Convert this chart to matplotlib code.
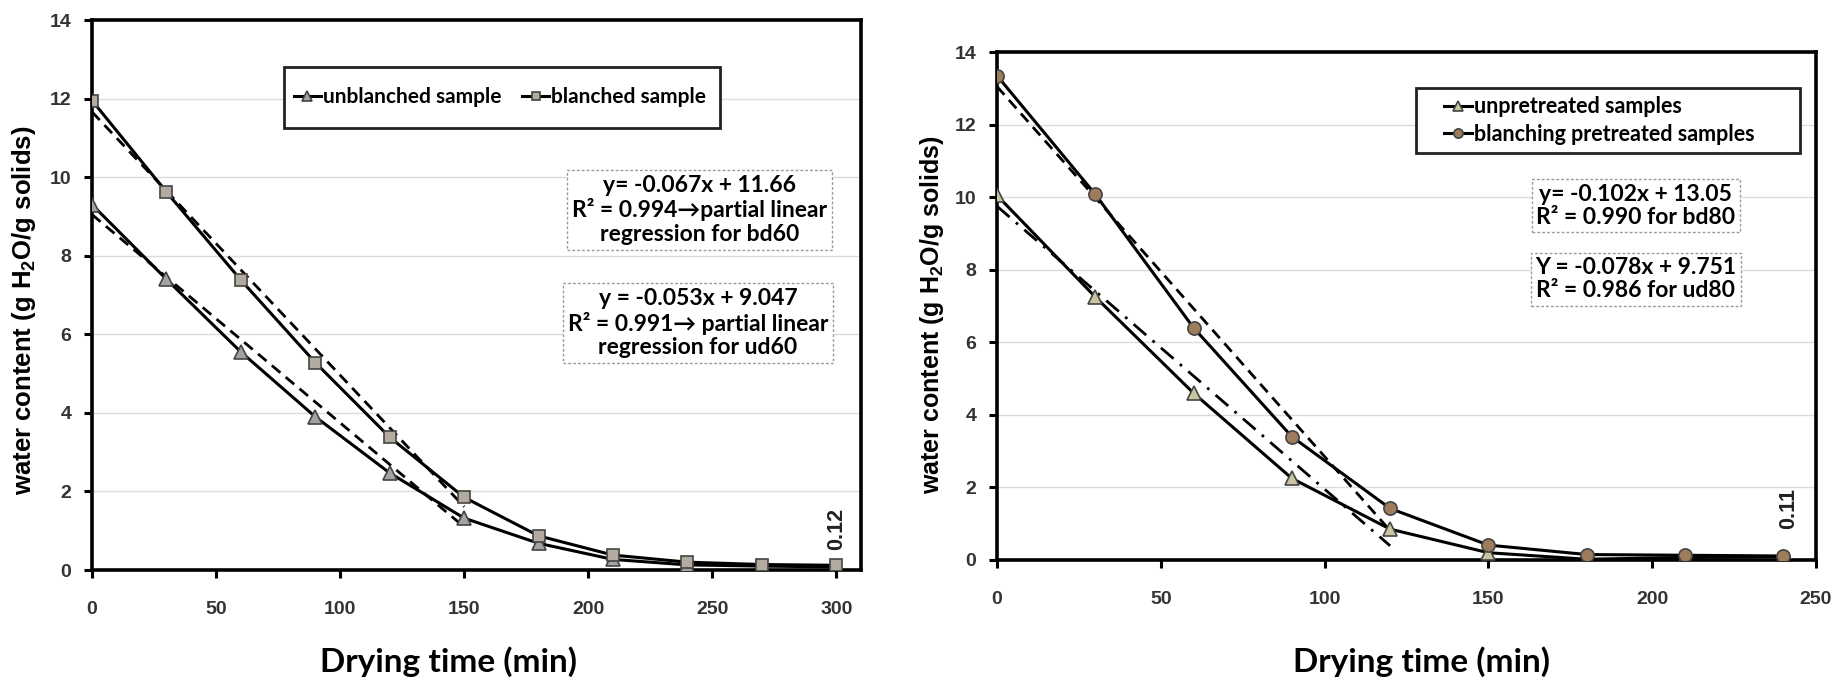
import matplotlib
matplotlib.use('Agg')
import matplotlib.pyplot as plt
from matplotlib.patches import Rectangle
import numpy as np

plt.rcParams['mathtext.fontset'] = 'custom'
plt.rcParams['mathtext.bf'] = 'Liberation Sans:bold'
plt.rcParams['mathtext.rm'] = 'Liberation Sans:bold'

# --- Data: left panel (60 C) ---
time_60 = [0, 30, 60, 90, 120, 150, 180, 210, 240, 270, 300]
unblanched_60 = [9.30, 7.40, 5.55, 3.90, 2.47, 1.32, 0.68, 0.27, 0.13, 0.10, 0.08]
blanched_60 = [11.95, 9.62, 7.38, 5.28, 3.38, 1.85, 0.87, 0.38, 0.20, 0.14, 0.12]
fit_range_60 = [0, 150]
fit_bd60 = (-0.067, 11.66)
fit_ud60 = (-0.053, 9.047)

# --- Data: right panel (80 C) ---
time_80 = [0, 30, 60, 90, 120, 150, 180, 210, 240]
unpretreated_80 = [10.05, 7.25, 4.60, 2.25, 0.85, 0.20, 0.02, 0.07, 0.09]
blanching_80 = [13.35, 10.08, 6.40, 3.40, 1.42, 0.41, 0.15, 0.13, 0.11]
fit_range_80 = [0, 120]
fit_bd80 = (-0.102, 13.05)
fit_ud80 = (-0.078, 9.751)

TICK_FONT = 'Liberation Sans'
BOX_FONT = ['Lato', 'DejaVu Sans']
YLABEL = r'water content (g H$_{\mathbf{2}}$O/g solids)'

fig = plt.figure(figsize=(18.34, 6.79), dpi=100)
ax1 = fig.add_axes([0.0502, 0.1605, 0.4193, 0.8100])
ax2 = fig.add_axes([0.5436, 0.1753, 0.4466, 0.7481])


def style_axes(ax, xmax, xticks):
    ax.set_xlim(0, xmax)
    ax.set_ylim(0, 14)
    ax.set_xticks(xticks)
    ax.set_yticks(range(0, 15, 2))
    ax.grid(axis='y', color='#dcdcdc', linewidth=1.0)
    ax.set_axisbelow(True)
    for sp in ax.spines.values():
        sp.set_linewidth(2.6)
        sp.set_color('black')
    ax.tick_params(direction='out', length=6, width=2.2)
    ax.tick_params(axis='x', pad=16)
    ax.tick_params(axis='y', pad=9)
    for lab in ax.get_xticklabels() + ax.get_yticklabels():
        lab.set_fontfamily(TICK_FONT)
        lab.set_fontweight('bold')
        lab.set_fontsize(14)
        lab.set_color('#333333')


def legend_frame(ax, x0, y0, x1, y1):
    ax.add_patch(Rectangle((x0, y0), x1 - x0, y1 - y0, transform=ax.transAxes,
                           facecolor='white', edgecolor='#222222', linewidth=2.0,
                           zorder=4))


# ---------------- Left panel ----------------
ax1.plot(time_60, unblanched_60, color='black', linewidth=2.2, marker='^',
         markersize=10, markerfacecolor='#a3a3a3', markeredgecolor='#444444',
         markeredgewidth=1.2, label='unblanched sample', zorder=3)
ax1.plot(time_60, blanched_60, color='black', linewidth=2.2, marker='s',
         markersize=9, markerfacecolor='#b3aaa0', markeredgecolor='#444444',
         markeredgewidth=1.2, label='blanched sample', zorder=3)
fx = np.array(fit_range_60)
ax1.plot(fx, fit_bd60[0] * fx + fit_bd60[1], color='black', linewidth=2.0,
         linestyle=(0, (4, 2.5)), zorder=2)
ax1.plot(fx, fit_ud60[0] * fx + fit_ud60[1], color='black', linewidth=2.0,
         linestyle=(0, (4, 2.5)), zorder=2)
style_axes(ax1, 310, range(0, 301, 50))

legend_frame(ax1, 0.25, 0.804, 0.817, 0.915)
leg1 = ax1.legend(loc='center left', bbox_to_anchor=(0.262, 0.86), ncol=2,
                  frameon=False, borderaxespad=0, borderpad=0,
                  prop={'family': BOX_FONT, 'weight': 'bold', 'size': 15},
                  handlelength=1.3, handletextpad=0.1, columnspacing=1.0,
                  markerscale=0.7)
leg1.set_zorder(5)

box = dict(boxstyle='square,pad=0.2', facecolor='white', edgecolor='#9a9a9a',
           linestyle=(0, (2, 1.5)), linewidth=1.0)
ax1.text(0.79, 0.655, 'y= -0.067x + 11.66\nR² = 0.994→partial linear\nregression for bd60',
         transform=ax1.transAxes, ha='center', va='center', fontsize=16.5,
         fontweight='bold', family=BOX_FONT, linespacing=1.15, bbox=box)
ax1.text(0.788, 0.449, 'y = -0.053x + 9.047\nR² = 0.991→ partial linear\nregression for ud60',
         transform=ax1.transAxes, ha='center', va='center', fontsize=16.5,
         fontweight='bold', family=BOX_FONT, linespacing=1.15, bbox=box)
ax1.text(time_60[-1], 0.5, '0.12', rotation=90, ha='center', va='bottom',
         fontsize=15.5, fontweight='bold', family=TICK_FONT, color='#222222')

ax1.set_ylabel(YLABEL, fontsize=18.5, fontweight='bold', family=TICK_FONT)
ax1.yaxis.set_label_coords(-0.070, 0.473)
ax1.set_xlabel('Drying time (min)', fontsize=24, fontweight='bold', family=BOX_FONT)
ax1.xaxis.set_label_coords(0.463, -0.1855)
ax1.xaxis.label.set_va('baseline')

# ---------------- Right panel ----------------
ax2.plot(time_80, unpretreated_80, color='black', linewidth=2.2, marker='^',
         markersize=10, markerfacecolor='#c9c5a3', markeredgecolor='#444444',
         markeredgewidth=1.2, label='unpretreated samples', zorder=3)
ax2.plot(time_80, blanching_80, color='black', linewidth=2.2, marker='o',
         markersize=9.5, markerfacecolor='#9e7d5c', markeredgecolor='#444444',
         markeredgewidth=1.2, label='blanching pretreated samples', zorder=3)
fx = np.array(fit_range_80)
ax2.plot(fx, fit_bd80[0] * fx + fit_bd80[1], color='black', linewidth=2.0,
         linestyle=(0, (4, 2.5)), zorder=2)
ax2.plot(fx, fit_ud80[0] * fx + fit_ud80[1], color='black', linewidth=2.0,
         linestyle=(0, (6, 3, 1, 3)), zorder=2)
style_axes(ax2, 250, range(0, 251, 50))

legend_frame(ax2, 0.512, 0.801, 0.98, 0.929)
leg2 = ax2.legend(loc='center left', bbox_to_anchor=(0.546, 0.865), ncol=1,
                  frameon=False, borderaxespad=0, borderpad=0,
                  prop={'family': BOX_FONT, 'weight': 'bold', 'size': 15.5},
                  handlelength=1.3, handletextpad=0.1, labelspacing=0.3,
                  markerscale=0.7)
leg2.set_zorder(5)

ax2.text(0.78, 0.697, 'y= -0.102x + 13.05\nR² = 0.990 for bd80',
         transform=ax2.transAxes, ha='center', va='center', fontsize=16.5,
         fontweight='bold', family=BOX_FONT, linespacing=1.1, bbox=box)
ax2.text(0.78, 0.553, 'Y = -0.078x + 9.751\nR² = 0.986 for ud80',
         transform=ax2.transAxes, ha='center', va='center', fontsize=16.5,
         fontweight='bold', family=BOX_FONT, linespacing=1.1, bbox=box)
ax2.text(time_80[-1] + 1.5, 0.85, '0.11', rotation=90, ha='center', va='bottom',
         fontsize=15.5, fontweight='bold', family=TICK_FONT, color='#222222')

ax2.set_ylabel(YLABEL, fontsize=18, fontweight='bold', family=TICK_FONT)
ax2.yaxis.set_label_coords(-0.062, 0.484)
ax2.set_xlabel('Drying time (min)', fontsize=24, fontweight='bold', family=BOX_FONT)
ax2.xaxis.set_label_coords(0.518, -0.2205)
ax2.xaxis.label.set_va('baseline')

fig.savefig('out.png', dpi=100)
plt.close(fig)
